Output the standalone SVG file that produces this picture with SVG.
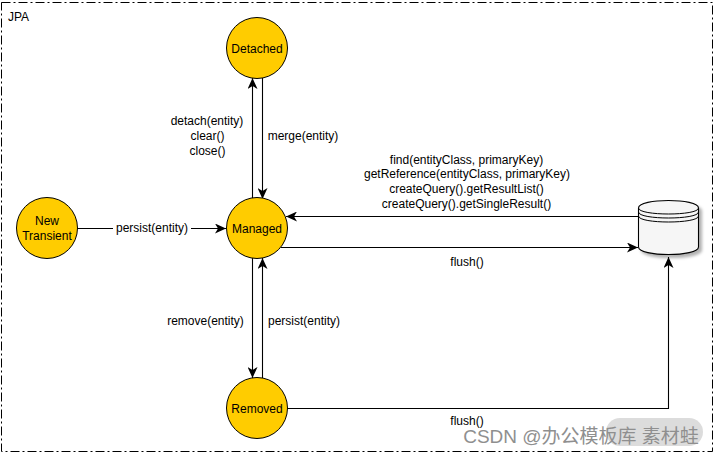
<svg xmlns="http://www.w3.org/2000/svg" width="715" height="455" viewBox="0 0 715 455">
<style>
text{font-family:"Liberation Sans",Arial,sans-serif;font-size:12px;fill:#000;text-anchor:middle}
.s{fill:#ffcc00;stroke:#000;stroke-width:1}
.c{fill:none;stroke:#000;stroke-width:1.1;marker-end:url(#a)}
</style>
<defs>
<marker id="a" markerUnits="userSpaceOnUse" markerWidth="12" markerHeight="10" refX="11" refY="5" orient="auto"><path d="M0 0L11 5L0 10L3 5Z" fill="#000"/></marker>
<filter id="sh" x="-20%" y="-20%" width="150%" height="150%"><feDropShadow dx="3" dy="3" stdDeviation="1.5" flood-color="#000" flood-opacity=".3"/></filter>
</defs>
<rect width="715" height="455" fill="#fff"/>
<rect id="frame" x="1.500" y="2.500" width="711" height="449" fill="none" stroke="#000" stroke-dasharray="9 3 2 3"/>
<text x="8" y="21" style="text-anchor:start">JPA</text>
<g id="connectors">
<path class="c" d="M252.500 198V78"/>
<path class="c" d="M262.500 78V199"/>
<path class="c" d="M77 228.500H226"/>
<path class="c" d="M638 216.500H286"/>
<path class="c" d="M281 247.500H638"/>
<path class="c" d="M252.500 258V378"/>
<path class="c" d="M262.500 378V258"/>
<path class="c" d="M287 408.500H668.500V257"/>
</g>
<g id="labels">
<rect x="113" y="221" width="78" height="15" fill="#fff"/>
<text x="152" y="232">persist(entity)</text>
<text x="207" y="125">detach(entity)</text><text x="207.500" y="140">clear()</text><text x="207.500" y="155">close()</text>
<text x="303" y="140">merge(entity)</text>
<text x="466.500" y="164">find(entityClass, primaryKey)</text>
<text x="467" y="178">getReference(entityClass, primaryKey)</text>
<text x="466.500" y="193">createQuery().getResultList()</text>
<text x="466.500" y="208">createQuery().getSingleResult()</text>
<text x="467" y="266">flush()</text>
<text x="205.500" y="325">remove(entity)</text>
<text x="304" y="325">persist(entity)</text>
<text x="467" y="425">flush()</text>
</g>
<g id="detached"><circle class="s" cx="257" cy="48" r="30.500"/><text x="257" y="53">Detached</text></g>
<g id="new-transient"><circle class="s" cx="47" cy="228" r="30.500"/><text x="47" y="225">New</text><text x="47" y="240">Transient</text></g>
<g id="managed"><circle class="s" cx="257" cy="228" r="30.500"/><text x="257" y="233">Managed</text></g>
<g id="removed"><circle class="s" cx="257" cy="408" r="30.500"/><text x="257" y="413">Removed</text></g>
<g id="database">
<path d="M638.500 208C638.500 198 698.500 198 698.500 208V247C698.500 257 638.500 257 638.500 247Z" fill="#f6f6f6" stroke="#000" stroke-width="1.100" filter="url(#sh)"/>
<path d="M638.500 208C638.500 216 698.500 216 698.500 208M638.500 212C638.500 220 698.500 220 698.500 212M638.500 216C638.500 224 698.500 224 698.500 216" fill="none" stroke="#000"/>
</g>
<g id="watermark">
<rect x="606" y="418" width="97" height="28" rx="14" fill="#c4c4c4" opacity=".6"/>
<text x="581" y="443" style="font-family:'Liberation Sans','Noto Sans CJK SC',sans-serif;font-size:19px;fill:#8f8f8f">CSDN @办公模板库 素材蛙</text>
</g>
</svg>
